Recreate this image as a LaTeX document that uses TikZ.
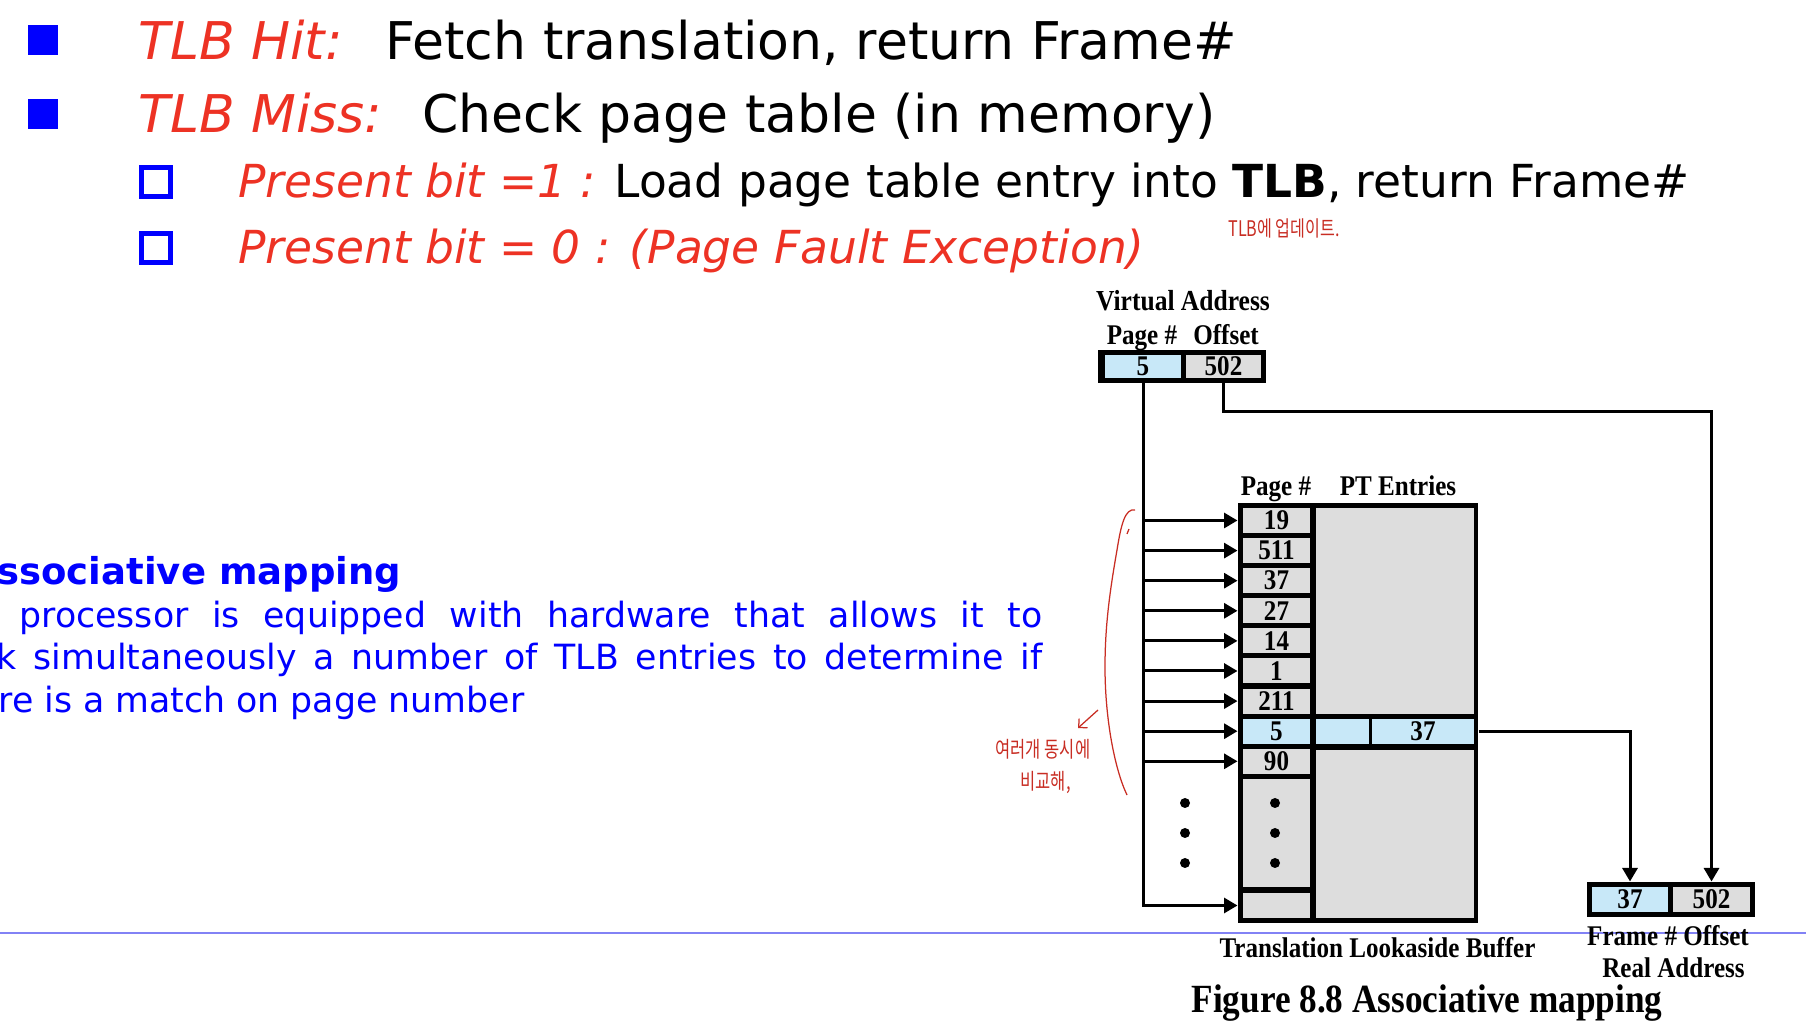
\documentclass[tikz,border=0pt]{standalone}
\usepackage{fontspec}
\setmainfont{DejaVu Sans}
\newfontfamily\figfont{Liberation Serif}[FakeStretch=0.88]
\newfontfamily\penfont{Noto Sans CJK KR}[FakeStretch=0.75]
\usetikzlibrary{arrows.meta}
\definecolor{slidered}{RGB}{237,50,36}
\definecolor{slideblue}{RGB}{0,0,255}
\definecolor{cellblue}{RGB}{200,232,248}
\definecolor{cellgray}{RGB}{221,221,221}
\definecolor{penred}{RGB}{200,45,35}
\definecolor{rulecol}{RGB}{130,130,245}
\newcommand\figlab{\figfont\bfseries\fontsize{11.4pt}{13pt}\selectfont}
\tikzset{
  txt/.style={inner sep=0pt, anchor=base west},
  toptext/.style={txt, font=\fontsize{20.8pt}{24pt}\selectfont},
  subtext/.style={txt, font=\fontsize{18.2pt}{21pt}\selectfont},
  bodytext/.style={txt, text=slideblue, font=\fontsize{13.9pt}{17pt}\selectfont},
  solidsq/.style={fill=slideblue, minimum size=12pt, inner sep=0pt},
  hollowsq/.style={draw=slideblue, line width=2pt, minimum size=11.6pt, inner sep=0pt},
  figtext/.style={inner sep=0pt, anchor=base, font=\figlab},
  boxfill/.style={fill=black, inner sep=0pt},
  cell/.style={inner sep=0pt, font=\figlab, fill=cellgray},
  link/.style={line width=1.2pt},
  busarrow/.style={link, -{Triangle[length=5.4pt,width=6pt]}},
  blackdot/.style={circle, fill=black, minimum size=4pt, inner sep=0pt},
  penline/.style={penred, line width=0.5pt},
  pentext/.style={txt, text=penred, font=\penfont\fontsize{8.6pt}{10pt}\selectfont},
}
\begin{document}
\begin{tikzpicture}[x=0.4pt,y=-0.4pt]
\useasboundingbox (0,0) rectangle (1806,1030);
\clip (0,0) rectangle (1806,1030);
% slide rule
\draw[rulecol, line width=0.6pt] (0,933) -- (1806,933);

% bullets
\node[solidsq] (sq1) at (43,40) {};
\node[solidsq] (sq2) at (43,114) {};
\node[hollowsq] (sq3) at (156,182.5) {};
\node[hollowsq] (sq4) at (156,248.5) {};
\node[toptext, text=slidered] (hit) at (138,60) {\itshape TLB Hit:};
\node[toptext] (hitdo) at (385,60) {Fetch translation, return Frame\#};
\node[toptext, text=slidered] (miss) at (138,133) {\itshape TLB Miss:};
\node[toptext] (missdo) at (422,133) {Check page table (in memory)};
\node[subtext, text=slidered] (pone) at (238,198) {\itshape Present bit =1 :};
\node[subtext] (ponedo) at (614,198) {Load page table entry into \textbf{TLB}, return Frame\#};
\node[subtext, text=slidered] (pzero) at (238,264) {\itshape Present bit = 0 : (Page Fault Exception)};

% left text
\node[bodytext, font=\bfseries\fontsize{14.8pt}{17pt}\selectfont] (amhead) at (-3,585) {ssociative mapping};
\node[bodytext] (amone) at (19,628) {\makebox[409.2pt][s]{processor is equipped with hardware that allows it to}};
\node[bodytext] (amtwo) at (-4,670) {\makebox[418.4pt][s]{k simultaneously a number of TLB entries to determine if}};
\node[bodytext] (amthree) at (-2,713) {re is a match on page number};

% virtual address
\node[boxfill, minimum width=67.2pt, minimum height=13.2pt] (va) at (1182,366.5) {};
\node[cell, fill=cellblue, minimum width=30.4pt, minimum height=9.2pt] (vpage) at (1143,366.5) {5};
\node[cell, minimum width=30pt, minimum height=9.2pt] (voff) at (1223.5,366.5) {502};
\node[figtext, font=\figfont\bfseries\fontsize{11.6pt}{13pt}\selectfont] (vatitle) at (1183,311) {Virtual Address};
\node[figtext] (vapage) at (1142,345) {Page \#};
\node[figtext] (vaoff) at (1226,345) {Offset};

% TLB
\node[boxfill, minimum width=96pt, minimum height=168pt] (tlb) at (1358,713) {};
\node[figtext] (tlbpage) at (1276,496) {Page \#};
\node[figtext] (tlbpt) at (1398,496) {PT Entries};
\foreach \n/\c [count=\k from 0] in {19/cellgray,511/cellgray,37/cellgray,27/cellgray,14/cellgray,1/cellgray,211/cellgray,5/cellblue,90/cellgray}
  \node[cell, fill=\c, minimum width=26.8pt, minimum height=10pt] (p\k) at (1276.5,520.5+30.1*\k) {\n};
\node[cell, minimum width=26.8pt, minimum height=43.2pt] (pdots) at (1276.5,833) {};
\node[cell, minimum width=26.8pt, minimum height=10pt] (plast) at (1276.5,905.5) {};
\node[cell, minimum width=63.2pt, minimum height=82.4pt] (ptup) at (1395,611) {};
\node[cell, fill=cellblue, minimum width=21.2pt, minimum height=10pt] (pta) at (1342.5,731.5) {};
\node[cell, fill=cellblue, minimum width=40.8pt, minimum height=10pt] (ptb) at (1423,731.5) {37};
\node[cell, minimum width=63.2pt, minimum height=67.2pt] (ptlow) at (1395,834) {};
\foreach \y [count=\i] in {803,833,863} {
  \node[blackdot] (ldot\i) at (1185,\y) {};
  \node[blackdot] (rdot\i) at (1275,\y) {};
}

% real address
\node[boxfill, minimum width=67.2pt, minimum height=14pt] (ra) at (1671,899.5) {};
\node[cell, fill=cellblue, minimum width=30.4pt, minimum height=10pt] (rframe) at (1630,899.5) {37};
\node[cell, minimum width=30.8pt, minimum height=10pt] (roff) at (1711.5,899.5) {502};
\node[figtext] (raflab) at (1668,945) {Frame \# Offset};
\node[figtext] (ralab) at (1673.5,977) {Real Address};
\node[figtext] (tlblab) at (1377.5,957) {Translation Lookaside Buffer};
\node[figtext, font=\figfont\bfseries\fontsize{16pt}{18pt}\selectfont] (caption) at (1427,1012) {Figure 8.8 Associative mapping};

% connectors
\draw[busarrow] (vpage.south) |- (tlb.west |- plast.west);
\foreach \k in {0,...,8}
  \draw[busarrow] (vpage.south |- p\k.west) -- (tlb.west |- p\k.west);
\draw[busarrow] (voff.south) -- ++(0,33) -| (roff |- ra.north);
\draw[busarrow] (tlb.east |- ptb.east) -| (rframe |- ra.north);

% handwritten notes
\node[pentext] (penone) at (1228,237) {TLB에 업데이트.};
\node[pentext, font=\penfont\fontsize{8.8pt}{10pt}\selectfont] (pentwo) at (995,758) {여러개 동시에};
\node[pentext, font=\penfont\fontsize{8.8pt}{10pt}\selectfont] (penthree) at (1020,790) {비교해,};
\draw[penline] (1135,510) .. controls (1125,508) and (1121,525) .. (1117,550)
  .. controls (1110,590) and (1105,625) .. (1105,667)
  .. controls (1105,720) and (1115,770) .. (1127,795);
\draw[penline] (1129,529) -- (1127,534);
\draw[penline, -{Straight Barb[length=2.5pt]}] (1098,710) -- (1078,728);
\end{tikzpicture}
\end{document}
